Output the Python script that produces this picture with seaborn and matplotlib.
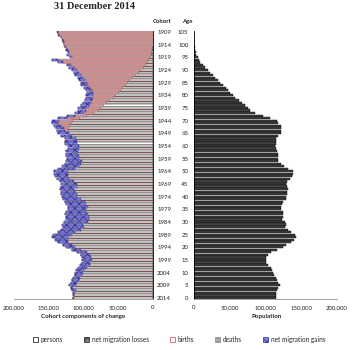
import numpy as np
import pandas as pd
import matplotlib
matplotlib.use('Agg')
import matplotlib.pyplot as plt
from matplotlib.patches import Patch
import seaborn as sns

sns.set_style('white')
plt.rcParams['font.family'] = ['Lato', 'DejaVu Sans']
plt.rcParams['hatch.linewidth'] = 0.5

# cohorts 1909 .. 2014 (top to bottom), ages 105 .. 0
cohorts = list(range(1909, 2015))
ages = [2014 - c for c in cohorts]

# population at 31 Dec 2014 by cohort, thousands (age 105 -> age 0)
persons = [0.06, 0.1, 0.17, 0.28, 0.45, 0.7, 1.1, 1.7, 2.5, 3.5,
           5, 7, 9, 12, 15, 19, 22, 26, 30, 34,
           37, 41, 45, 48, 51, 55, 58, 63, 67, 72,
           76, 79, 86, 96, 106, 116, 118, 121, 122, 122,
           121, 118, 114, 115, 115, 113, 114, 116, 117, 117,
           117, 118, 121, 126, 131, 138, 138, 137, 134, 130,
           128, 130, 131, 130, 130, 129, 128, 125, 123, 121,
           121, 124, 125, 124, 123, 127, 129, 127, 131, 135,
           141, 143, 140, 135, 129, 124, 116, 108, 103, 101,
           101, 101, 104, 107, 109, 110, 112, 114, 116, 117,
           120, 118, 116, 114, 114, 115]

# births of each cohort, thousands
births = [138, 137, 133, 131, 129, 128, 125, 123, 121, 121,
          117, 136, 130, 118, 114, 110, 106, 104, 100, 98,
          95, 94, 90, 88, 86, 86, 86, 88, 89, 92,
          96, 96, 100, 112, 124, 135, 137, 132, 128, 126,
          121, 116, 111, 110, 110, 106, 107, 108, 108, 107,
          107, 102, 104, 107, 112, 122, 122, 123, 121, 113,
          110, 110, 114, 112, 110, 110, 104, 98, 96, 93,
          96, 97, 94, 92, 92, 94, 98, 101, 104, 112,
          116, 123, 123, 122, 117, 112, 103, 95, 90, 89,
          88, 90, 91, 95, 99, 101, 102, 105, 107, 109,
          111, 115, 111, 113, 113, 114]

# net migration of each cohort, thousands (negative = losses)
net_migration = [-1.5, -1.5, -1, -1, -0.5, 0.5, 1, 1.5, 2, 2.5,
                 3, 9, 7, 6, 6.5, 7, 7, 7.5, 8, 8,
                 8.5, 9, 9, 9, 9.5, 10, 10, 10.5, 11, 11.5,
                 12, 12, 12, 12, 12, 11, 9, 10, 12, 12,
                 15, 16, 16, 17, 16, 17, 16, 16.5, 17, 17.5,
                 17, 22.5, 23, 24.5, 24.5, 21, 20.5, 18, 17, 20.5,
                 23, 23, 20, 20.5, 22.5, 21.5, 26, 29, 29, 30,
                 27, 28.5, 32.5, 33.5, 32.5, 34.5, 31, 30, 29, 25,
                 28, 22, 18, 15, 13, 13, 14, 14, 14, 13,
                 14, 12.5, 14, 13, 11.5, 11, 10.5, 10, 9.5, 9,
                 9.5, 3.5, 5.5, 1.5, 1.5, 1.3]

# deaths of each cohort up to end 2014, thousands
deaths = [136.4, 135.4, 131.8, 129.7, 128.0, 127.8, 124.9, 122.8, 120.5, 120.0,
          115, 138, 128, 112, 105.5, 98, 91, 85.5, 78, 72,
          66.5, 62, 54, 49, 44.5, 41, 38, 35.5, 33, 31.5,
          32, 29, 26, 28, 30, 30, 28, 21, 18, 16,
          15, 14, 13, 12, 11, 10, 9, 8.5, 8, 7.5,
          7, 6.5, 6, 5.5, 5.5, 5, 4.5, 4, 4, 3.5,
          5, 3, 3, 2.5, 2.5, 2.5, 2, 2, 2, 2,
          2, 1.5, 1.5, 1.5, 1.5, 1.5, 2, 2, 2, 2,
          3, 2, 1, 2, 1, 1, 1, 1, 1, 1,
          1, 1.5, 1, 1, 1.5, 2, 0.5, 1, 0.5, 1,
          0.5, 0.5, 0.5, 0.5, 0.5, 0.3]

x_ticks = [0, 50000, 100000, 150000, 200000]

df = pd.DataFrame({'cohort': [str(c) for c in cohorts],
                   'age': [str(a) for a in ages],
                   'persons': np.array(persons) * 1000,
                   'births': np.array(births) * 1000,
                   'deaths': np.array(deaths) * 1000,
                   'mig': np.array(net_migration) * 1000})
df['gains'] = df['mig'].clip(lower=0)
df['losses'] = (-df['mig']).clip(lower=0)

fig = plt.figure(figsize=(3.54, 3.50), dpi=100)
axl = fig.add_axes([0.0395, 0.145, 0.3927, 0.767])
axr = fig.add_axes([0.548, 0.145, 0.404, 0.767])

pos = np.arange(len(df))
h = 0.8

# left panel: cohort components
axl.barh(pos, df['births'], height=h, facecolor='none', edgecolor='#e06060',
         linewidth=0.5, zorder=1)
sns.barplot(data=df, y='cohort', x='persons', orient='h', ax=axl, color='white',
            saturation=1, width=h, edgecolor='black', linewidth=0.35, zorder=2)
axl.barh(pos, df['deaths'], left=df['persons'], height=h, color='#c89c9c',
         edgecolor='#b07878', linewidth=0.3, zorder=2)
axl.barh(pos, df['losses'], left=df['persons'] + df['deaths'], height=h,
         color='#707080', edgecolor='#303040', hatch='xxxx', linewidth=0.3, zorder=2)
axl.barh(pos, df['gains'], left=df['persons'] + df['deaths'] - df['gains'], height=h,
         color='#8c8ce0', edgecolor='#2a2a90', hatch='xxxx', linewidth=0.3, zorder=3)

axl.set_xlim(200000, 0)
axl.set_ylim(len(df) - 0.5, -0.5)
axl.set_yticks(pos[::5])
axl.set_yticklabels(df['cohort'][::5])
axl.yaxis.tick_right()
axl.set_xticks(x_ticks)
axl.set_xticklabels([f'{t:,}' for t in x_ticks])
axl.set_xlabel('')
axl.set_ylabel('')

# right panel: population by age
sns.barplot(data=df, y='age', x='persons', orient='h', ax=axr, color='#444444',
            saturation=1, width=0.85, edgecolor='black', linewidth=0.3)
axr.set_xlim(0, 200000)
axr.set_ylim(len(df) - 0.5, -0.5)
axr.set_yticks(pos[::5])
axr.set_yticklabels(df['age'][::5])
axr.set_xticks(x_ticks)
axr.set_xticklabels([f'{t:,}' for t in x_ticks])
axr.set_xlabel('')
axr.set_ylabel('')

for ax in (axl, axr):
    for s in ax.spines.values():
        s.set_visible(False)
    ax.spines['bottom'].set_visible(True)
    ax.spines['bottom'].set_color('#999999')
    ax.spines['bottom'].set_linewidth(0.6)
    ax.tick_params(axis='both', labelsize=4.3, length=0, colors='#222222')
    ax.tick_params(axis='x', pad=4)
axl.spines['right'].set_visible(True)
axl.spines['right'].set_color('black')
axl.spines['right'].set_linewidth(0.6)
axr.spines['left'].set_visible(True)
axr.spines['left'].set_color('black')
axr.spines['left'].set_linewidth(0.6)
axl.tick_params(axis='y', pad=3)
axr.tick_params(axis='y', pad=4)

fig.text(0.266, 0.993, '31 December 2014', ha='center', va='top',
         fontsize=7.5, fontweight='bold', family=['Liberation Serif'])
fig.text(0.459, 0.938, 'Cohort', ha='center', va='center', fontsize=4.3, fontweight='bold')
fig.text(0.528, 0.938, 'Age', ha='center', va='center', fontsize=4.3, fontweight='bold')
fig.text(0.2345, 0.097, 'Cohort components of change', ha='center', va='center',
         fontsize=4.5, fontweight='bold')
fig.text(0.754, 0.097, 'Population', ha='center', va='center',
         fontsize=4.5, fontweight='bold')

handles = [Patch(facecolor='white', edgecolor='black', linewidth=0.5),
           Patch(facecolor='#808080', edgecolor='#202020', hatch='xxxx', linewidth=0.5),
           Patch(facecolor='white', edgecolor='#e06060', linewidth=0.6),
           Patch(facecolor='#b0b0b0', edgecolor='#888888', hatch='-----', linewidth=0.5),
           Patch(facecolor='#8c8ce0', edgecolor='#2a2a90', hatch='xxxx', linewidth=0.5)]
labels = ['persons', 'net migration losses', 'births', 'deaths', 'net migration gains']
fig.legend(handles, labels, loc='center', bbox_to_anchor=(0.506, 0.031), ncol=5,
           frameon=False, fontsize=4.7, handlelength=0.8, handleheight=0.8,
           handletextpad=0.4, columnspacing=3.2)

fig.savefig('out.png', dpi=100)
